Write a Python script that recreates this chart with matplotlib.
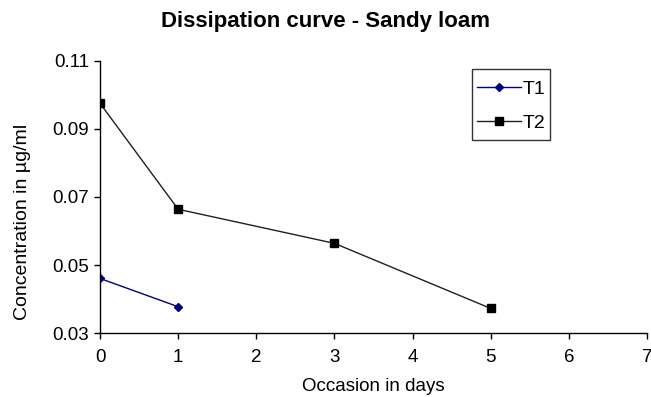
import matplotlib
matplotlib.use('Agg')
import matplotlib.pyplot as plt
from matplotlib.lines import Line2D
from matplotlib.legend_handler import HandlerLine2D

plt.rcParams['font.family'] = ['Liberation Sans', 'DejaVu Sans']

# days and concentrations (ug/ml)
t1_days = [0, 1]
t1_conc = [0.0461, 0.0378]
t2_days = [0, 1, 3, 5]
t2_conc = [0.0975, 0.0664, 0.0564, 0.0373]

x_ticks = [0, 1, 2, 3, 4, 5, 6, 7]
y_ticks = [0.03, 0.05, 0.07, 0.09, 0.11]


class CenteredLine(HandlerLine2D):
    # tall legend rows push the handle up, pull it back to the text middle
    def create_artists(self, legend, orig_handle, xdescent, ydescent,
                       width, height, fontsize, trans):
        return super().create_artists(legend, orig_handle, xdescent, ydescent,
                                      width, height - 0.3 * fontsize, fontsize, trans)


fig = plt.figure(figsize=(6.51, 3.97), dpi=100)
ax = fig.add_axes([100 / 651, 1 - 333.3 / 397, 547 / 651, 272.6 / 397])

ax.plot(t1_days, t1_conc, color='#000080', linewidth=1, marker='D',
        markersize=4.5, label='T1')
ax.plot(t2_days, t2_conc, color='#202020', linewidth=1, marker='s',
        markersize=6, markerfacecolor='black', markeredgecolor='black', label='T2')

ax.set_xlim(0, 7)
ax.set_ylim(0.03, 0.11)
ax.set_xticks(x_ticks)
ax.set_yticks(y_ticks)
ax.set_yticklabels(['%.2f' % v for v in y_ticks])
ax.tick_params(direction='out', length=4, width=1, labelsize=13.5, colors='black', pad=4)
ax.tick_params(axis='x', pad=7)
ax.spines['top'].set_visible(False)
ax.spines['right'].set_visible(False)
for s in ['left', 'bottom']:
    ax.spines[s].set_linewidth(1)

ax.set_xlabel('Occasion in days', fontsize=13.5, labelpad=9)
ax.set_ylabel('Concentration in µg/ml', fontsize=14)
ax.yaxis.set_label_coords(-0.126, 0.41)
fig.text(0.5, 1 - 22 / 397, 'Dissipation curve - Sandy loam', fontsize=16,
         fontweight='bold', ha='center', va='center')

leg = ax.legend(loc='upper left', bbox_to_anchor=((472 - 100) / 547, 1 - (69 - 60.7) / 272.6),
                borderaxespad=0, fontsize=14, frameon=True, fancybox=False,
                edgecolor='black', handlelength=2.25, handletextpad=0.05,
                handleheight=1.7, borderpad=0.28, labelspacing=0.38,
                handler_map={Line2D: CenteredLine()})
leg.get_frame().set_linewidth(1)

plt.savefig('out.png', dpi=100)
plt.close()
